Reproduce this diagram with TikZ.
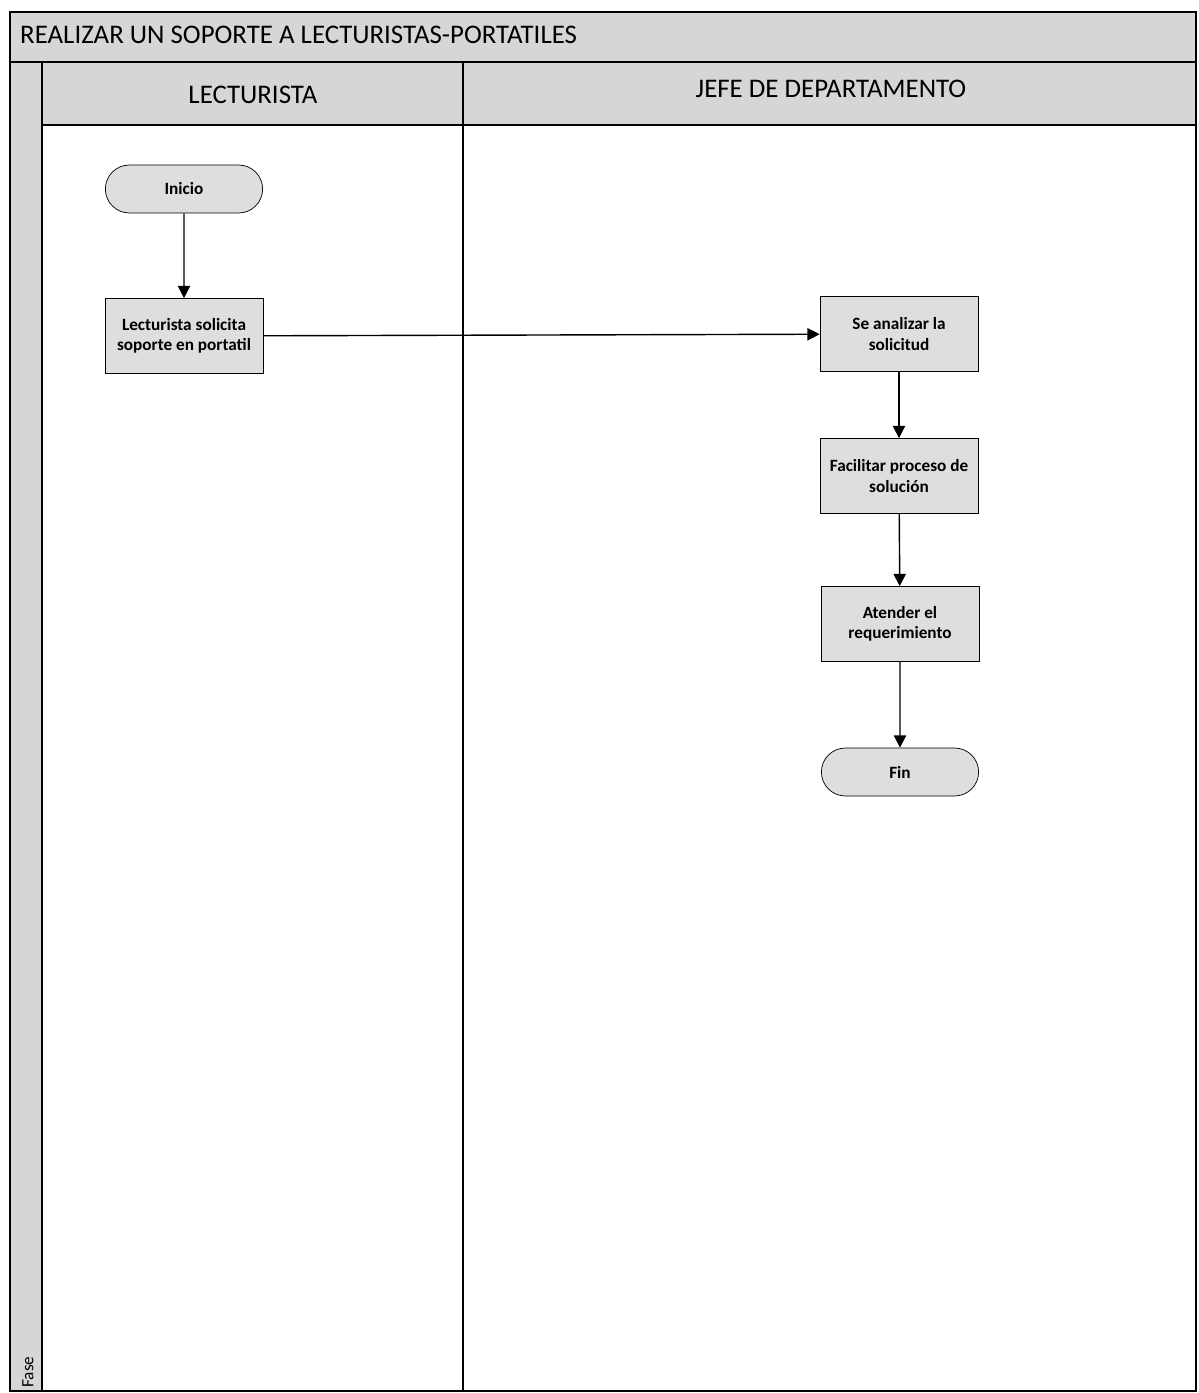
\documentclass[tikz,border=0pt]{standalone}
\usepackage{fontspec}
\setmainfont{Carlito}
\usepackage{tikz}
\usepackage{xcolor}
\usetikzlibrary{arrows.meta,shapes.misc}

\definecolor{bandgray}{RGB}{214,214,214}
\definecolor{boxgray}{RGB}{222,222,222}
\tikzset{
  proc/.style={draw,fill=boxgray,minimum width=3.16cm,minimum height=1.5cm,align=center,font=\fontsize{9.8}{11.5}\selectfont\bfseries,inner sep=1pt},
  term/.style={draw,fill=boxgray,rounded rectangle,minimum width=3.38cm,minimum height=0.96cm,font=\fontsize{9.8}{11.5}\selectfont\bfseries},
  flow/.style={thick,-{Triangle[length=7pt,width=7pt]}}
}

\begin{document}
\begin{tikzpicture}[x=0.02cm,y=-0.02cm]
\useasboundingbox (0,0) rectangle (1198,1393);
% bands
\fill[bandgray] (10,12) rectangle (1196,62);
\fill[bandgray] (10,62) rectangle (42,1391);
\fill[bandgray] (42,62) rectangle (1196,125);
\draw[thick] (10,12) rectangle (1196,1391);
\draw[thick] (10,62)--(1196,62);
\draw[thick] (42,125)--(1196,125);
\draw[thick] (42,62)--(42,1391);
\draw[thick] (463,62)--(463,1391);
\node[anchor=west,font=\fontsize{15.3}{17}\selectfont] at (14,35) (titulo){REALIZAR UN SOPORTE A LECTURISTAS-PORTATILES};
\node[font=\fontsize{15.3}{17}\selectfont] at (253,95) (carril1){LECTURISTA};
\node[font=\fontsize{15.3}{17}\selectfont] at (831,89) (carril2){JEFE DE DEPARTAMENTO};
\node[rotate=90,anchor=west,inner sep=0pt,font=\fontsize{9.8}{11}\selectfont] at (28,1388) (fase){Fase};

% nodes
\node[term] at (184,189) (inicio){Inicio};
\node[proc] at (184,336) (solicita){Lecturista solicita\\soporte en portatil};
\node[proc] at (899,334) (analiza){Se analizar la\\solicitud};
\node[proc] at (899,476) (facilita){Facilitar proceso de\\solución};
\node[proc] at (900,624) (atiende){Atender el\\requerimiento};
\node[term] at (900,772) (fin){Fin};

\draw[flow] (inicio)--(solicita);
\draw[flow] (solicita)--(analiza);
\draw[flow] (analiza)--(facilita);
\draw[flow] (facilita)--(atiende);
\draw[flow] (atiende)--(fin);
\end{tikzpicture}
\end{document}
